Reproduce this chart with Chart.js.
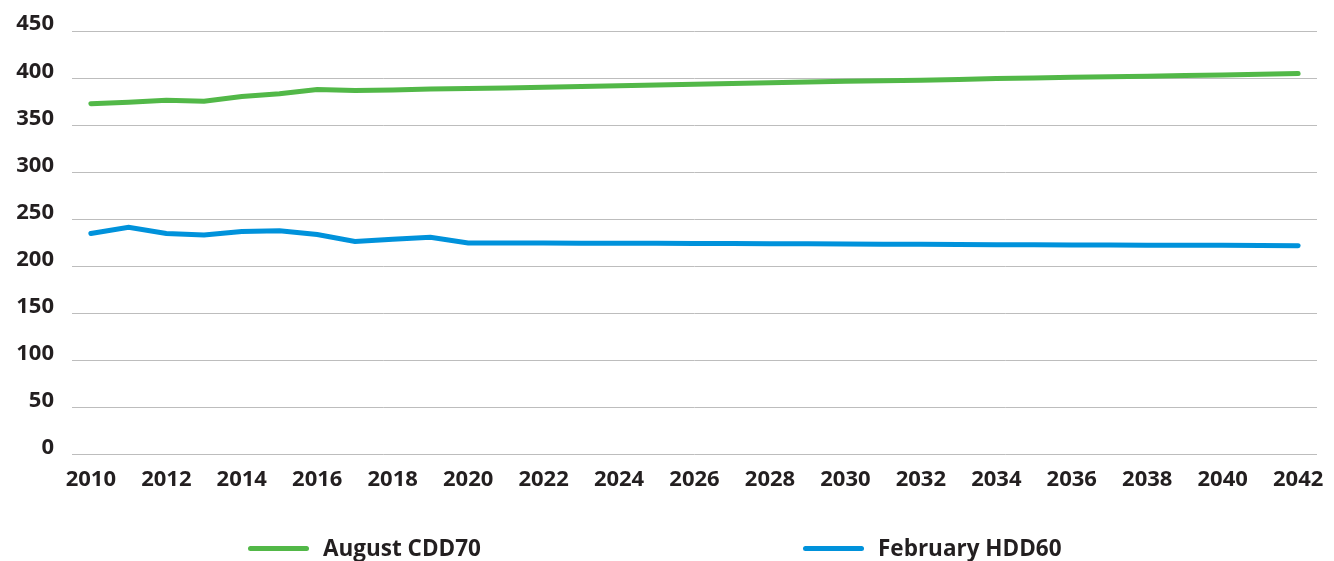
<!DOCTYPE html>
<html>
<head>
<meta charset="utf-8">
<script src="https://cdn.jsdelivr.net/npm/chart.js@4"></script>
<style>
  html, body { margin:0; padding:0; background:#fff; }
  #wrap { position:relative; width:1334px; height:561px; overflow:hidden; }
  #legend { position:absolute; left:0; top:534px; width:1334px; height:28px;
            font-family:"Open Sans", sans-serif; font-weight:700; font-size:22.5px;
            line-height:28px; color:#231f20; }
  .item { position:absolute; top:0; display:flex; align-items:center; height:28px; }
  .swatch { width:61px; height:5px; border-radius:3px; margin-right:14px; }
</style>
</head>
<body>
<div id="wrap">
  <canvas id="chartDD" width="1334" height="561"></canvas>
  <div id="legend"></div>
</div>
<script>
// ==========================
// DATA
// ==========================

const years = [
  "2010","2011","2012","2013","2014","2015","2016","2017","2018","2019","2020",
  "2021","2022","2023","2024","2025","2026","2027","2028","2029","2030","2031",
  "2032","2033","2034","2035","2036","2037","2038","2039","2040","2041","2042"
];

// only every other year gets a tick label
const yearLabels = [
  "2010","2012","2014","2016","2018","2020","2022","2024","2026","2028","2030",
  "2032","2034","2036","2038","2040","2042"
];

const augustCDD70 = [
  373, 374.5, 376.5, 375.5, 380.5, 383.5, 388, 387, 387.5, 388.5, 389,
  389.5, 390.5, 391.3, 392, 392.8, 393.6, 394.4, 395.2, 396, 396.7, 397.3,
  398, 398.7, 399.6, 400.3, 401, 401.6, 402.2, 402.8, 403.5, 404.2, 405
];

const februaryHDD60 = [
  235, 241.5, 235, 233.5, 237, 238, 234, 226.5, 229, 231, 225,
  225, 224.8, 224.7, 224.6, 224.5, 224.4, 224.3, 224.1, 224, 223.8, 223.6,
  223.5, 223.3, 223.1, 223, 222.9, 222.7, 222.6, 222.5, 222.4, 222.2, 222
];

const yTicks = [0, 50, 100, 150, 200, 250, 300, 350, 400, 450];

const GREEN = "#52b848";
const BLUE = "#0092db";
const TEXT = "#231f20";

Chart.defaults.font.family = "'Open Sans', sans-serif";
Chart.defaults.font.weight = "bold";
Chart.defaults.color = TEXT;


// ==========================
// CHART
// ==========================

const chart = new Chart(document.getElementById("chartDD"), {
  type: "line",
  data: {
    labels: years,
    datasets: [
      {
        label: "August CDD70",
        data: augustCDD70,
        borderColor: GREEN,
        backgroundColor: GREEN,
        borderWidth: 5,
        borderCapStyle: "round",
        pointRadius: 0,
        tension: 0
      },
      {
        label: "February HDD60",
        data: februaryHDD60,
        borderColor: BLUE,
        backgroundColor: BLUE,
        borderWidth: 5,
        borderCapStyle: "round",
        pointRadius: 0,
        tension: 0
      }
    ]
  },
  options: {
    responsive: false,
    animation: false,
    layout: { padding: { top: 29, right: 17, bottom: 64, left: 0 } },
    plugins: {
      legend: { display: false },
      tooltip: { enabled: false }
    },
    scales: {
      x: {
        offset: true,
        grid: { display: false },
        border: { display: false },
        ticks: {
          autoSkip: false,
          maxRotation: 0,
          padding: 4,
          font: { size: 22, weight: "bold" },
          callback: function (value, index) {
            const lab = this.getLabelForValue(value);
            return yearLabels.includes(lab) ? lab : "";
          }
        }
      },
      y: {
        min: yTicks[0],
        max: yTicks[yTicks.length - 1],
        afterBuildTicks: function (axis) {
          axis.ticks = yTicks.map(v => ({ value: v }));
        },
        afterFit: function (axis) { axis.width = 72; },
        grid: { color: "#bdbdbd", lineWidth: 1, drawTicks: false },
        border: { display: false },
        ticks: {
          padding: 18,
          labelOffset: -7,
          font: { size: 22, weight: "bold" }
        }
      }
    }
  }
});


// ==========================
// LEGEND
// ==========================

const legendPos = [248, 803];
const legendBox = document.getElementById("legend");
chart.data.datasets.forEach(function (ds, i) {
  const item = document.createElement("div");
  item.className = "item";
  item.style.left = legendPos[i] + "px";
  const sw = document.createElement("span");
  sw.className = "swatch";
  sw.style.background = ds.borderColor;
  const tx = document.createElement("span");
  tx.textContent = ds.label;
  item.appendChild(sw);
  item.appendChild(tx);
  legendBox.appendChild(item);
});
</script>
</body>
</html>
